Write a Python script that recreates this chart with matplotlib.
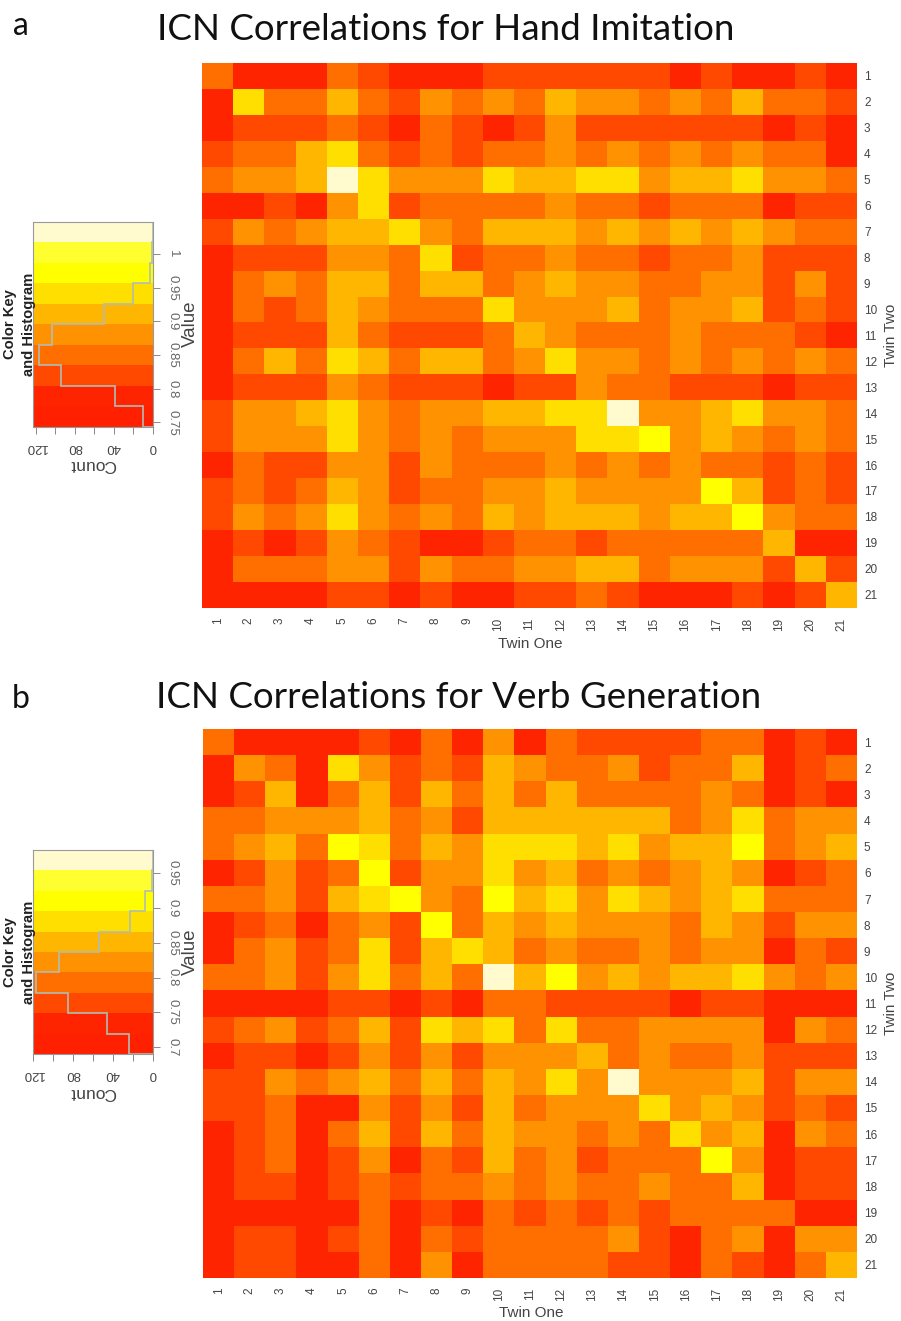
import numpy as np
import matplotlib as mpl
import matplotlib.pyplot as plt
from matplotlib.colors import ListedColormap, BoundaryNorm

mpl.use('Agg')

W, H = 901, 1321

# heat.colors(10), lowest band first
band_colors = ['#FF2000', '#FF2400', '#FF4900', '#FF6F00', '#FF9200',
               '#FFB600', '#FFDF00', '#FFFF00', '#FFFF30', '#FFFBCF']

labels = [str(i) for i in range(1, 22)]

# colour band of each cell, row 1 first
hand_bands = [
    [3,1,1,1,3,2,1,1,1,2,2,2,2,2,2,1,2,1,1,2,1],
    [1,6,3,3,5,3,2,4,3,4,3,5,4,4,3,4,3,5,3,3,2],
    [1,2,2,2,3,2,1,3,2,1,2,4,2,2,2,2,2,2,1,2,1],
    [2,3,3,5,6,3,2,3,2,3,3,4,3,4,3,4,3,4,3,3,1],
    [3,4,4,5,9,6,4,4,4,6,5,5,6,6,4,5,5,6,4,4,3],
    [1,1,2,1,4,6,2,3,3,3,3,4,3,3,2,3,3,3,1,2,2],
    [2,4,3,4,5,5,6,4,3,5,5,5,4,5,4,5,4,5,4,3,3],
    [1,2,2,2,4,4,3,6,2,3,3,4,3,3,2,3,3,4,2,2,2],
    [1,3,4,3,5,5,3,5,5,3,4,5,4,4,3,3,4,4,2,4,2],
    [1,3,2,3,5,4,3,3,3,6,4,4,4,5,3,4,4,5,2,3,2],
    [1,2,2,2,5,3,2,2,2,3,5,4,3,3,3,4,3,3,3,2,1],
    [1,3,5,3,6,5,3,5,5,3,4,6,4,4,3,4,3,4,3,4,3],
    [1,2,2,2,4,3,2,2,2,1,2,2,4,3,3,2,2,2,1,2,2],
    [2,4,4,5,6,4,3,4,4,5,5,6,6,9,4,4,5,6,4,4,3],
    [2,4,4,4,6,4,3,4,3,4,4,4,6,6,7,4,5,4,3,4,3],
    [1,3,2,2,4,4,2,4,3,3,3,4,3,4,3,4,3,3,2,3,2],
    [2,3,2,3,5,4,2,3,3,4,4,5,4,4,4,4,7,5,2,3,2],
    [2,4,3,4,6,4,3,4,3,5,4,5,5,5,4,5,5,7,4,3,3],
    [1,2,1,2,4,3,2,1,1,2,3,3,2,3,3,3,3,3,5,1,1],
    [1,3,3,3,4,4,2,4,3,3,4,4,5,5,3,4,4,4,2,5,2],
    [1,1,1,1,2,2,1,2,1,1,2,2,3,2,1,1,1,2,1,2,5],
]

verb_bands = [
    [3,1,1,1,1,2,1,3,1,4,1,3,2,2,2,2,3,3,1,2,1],
    [1,4,3,1,6,4,2,3,2,5,4,3,3,4,2,3,3,5,1,2,3],
    [1,2,5,1,3,5,2,5,3,5,3,5,3,3,3,3,4,3,1,2,1],
    [3,3,4,4,4,5,3,4,2,5,5,5,5,5,5,3,4,6,3,4,4],
    [3,4,5,3,7,6,3,5,4,6,6,6,5,6,4,5,5,7,3,4,5],
    [1,2,4,2,3,7,2,4,4,6,4,5,3,4,3,4,5,4,1,2,3],
    [3,3,4,2,5,6,7,4,3,7,5,6,4,6,5,4,5,6,3,3,3],
    [1,2,3,1,3,4,2,7,3,5,4,5,4,4,4,3,5,4,2,4,4],
    [1,3,4,2,3,6,2,5,6,5,3,4,3,3,4,3,4,4,1,3,2],
    [3,3,4,2,4,6,3,5,3,9,5,7,4,5,4,5,5,6,4,3,4],
    [1,1,1,1,2,2,1,2,1,3,3,2,2,2,2,1,2,2,1,1,1],
    [2,3,4,2,3,5,2,6,5,6,3,6,3,3,4,4,4,4,1,4,3],
    [1,2,2,1,2,4,2,4,2,4,4,4,5,3,4,3,3,4,2,2,2],
    [2,2,4,3,4,5,3,5,3,5,4,6,4,9,4,4,4,5,2,4,4],
    [2,2,3,1,1,4,2,4,2,5,3,4,4,4,6,4,5,4,2,3,2],
    [1,2,3,1,3,5,2,5,3,5,4,4,3,4,3,6,4,5,1,4,3],
    [1,2,3,1,2,4,1,3,2,5,3,4,2,3,3,3,7,4,1,2,2],
    [1,2,2,1,2,3,2,3,3,4,3,4,3,3,4,3,3,5,1,2,2],
    [1,1,1,1,1,3,1,2,1,3,2,3,2,3,2,3,3,3,3,1,1],
    [1,2,2,1,2,3,1,3,2,3,3,3,3,4,2,1,3,4,1,4,4],
    [1,2,2,1,1,3,1,4,1,3,3,3,3,2,2,1,3,2,1,3,5],
]

# colour key ranges and histogram counts per band
hand_range = [0.7436, 1.048]
hand_counts = [10, 39, 94, 117, 103, 50, 20, 3, 1, 0]
hand_ticks = [0.75, 0.8, 0.85, 0.9, 0.95, 1]

verb_range = [0.690, 0.9835]
verb_counts = [24, 46, 85, 117, 94, 54, 23, 8, 1, 0]
verb_ticks = [0.7, 0.75, 0.8, 0.85, 0.9, 0.95]

cmap = ListedColormap(band_colors)
norm = BoundaryNorm(np.arange(-0.5, 10.5), 10)


def eixo(fig, x0, y0, x1, y1):
    return fig.add_axes([x0 / W, 1 - y1 / H, (x1 - x0) / W, (y1 - y0) / H])


def texto(fig, x, y, s, **kw):
    fig.text(x / W, 1 - y / H, s, ha='center', va='center', **kw)


def desenhaMapa(fig, caixa, dados, ly, lx):
    ax = eixo(fig, *caixa)
    ax.imshow(np.array(dados), cmap=cmap, norm=norm, aspect='auto', interpolation='nearest')
    for s in ax.spines.values():
        s.set_visible(False)
    ax.set_xticks(range(21))
    ax.set_xticklabels(labels, rotation=90, fontsize=8.5, color='#444444')
    ax.yaxis.tick_right()
    ax.set_yticks(range(21))
    ax.set_yticklabels(labels, fontsize=8.5, color='#444444')
    ax.tick_params(axis='x', length=0, pad=7)
    ax.tick_params(axis='y', length=0, pad=5)
    texto(fig, (caixa[0] + caixa[2]) / 2 + 1, ly, 'Twin One', fontsize=11, color='#444444')
    texto(fig, lx, (caixa[1] + caixa[3]) / 2, 'Twin Two', fontsize=11, color='#444444', rotation=90)


def desenhaChave(fig, caixa, faixa, contagem, ticks, xmax):
    ax = eixo(fig, *caixa)
    bordas = np.linspace(faixa[0], faixa[1], 11)
    ax.pcolormesh([0, xmax], bordas, np.arange(10).reshape(-1, 1), cmap=cmap, norm=norm)
    ax.stairs(contagem, bordas, orientation='horizontal', color='#B0BDB4', linewidth=1.2)
    ax.set_xlim(xmax, 0)
    ax.set_ylim(faixa)
    ax.yaxis.tick_right()
    ax.set_yticks(ticks)
    ax.set_yticklabels([str(t) for t in ticks], rotation=-90, va='center', fontsize=9.5, color='#666666')
    ax.set_xticks([0, 20, 40, 60, 80, 100, 120])
    ax.set_xticklabels(['0', '', '40', '', '80', '', '120'], rotation=180, fontsize=9.5, color='#444444')
    ax.tick_params(length=5, width=0.7, color='#888888', pad=5)
    for s in ax.spines.values():
        s.set_color('#999999')
    meio = (caixa[1] + caixa[3]) / 2
    texto(fig, 190, meio, 'Value', fontsize=13.5, color='#444444', rotation=90)
    texto(fig, 93, caixa[3] + 38, 'Count', fontsize=12.5, color='#444444', rotation=180)
    texto(fig, 10, meio, 'Color Key', fontsize=10.6, weight='bold', color='#222222', rotation=90)
    texto(fig, 29, meio, 'and Histogram', fontsize=10.6, weight='bold', color='#222222', rotation=90)


plt.rcParams['font.family'] = ['Liberation Sans', 'DejaVu Sans']

fig = plt.figure(figsize=(W / 100, H / 100), dpi=100)

desenhaMapa(fig, (202, 63, 857, 607.7), hand_bands, 644, 891)
desenhaMapa(fig, (203, 729.3, 857, 1277.7), verb_bands, 1313, 891)
desenhaChave(fig, (32.7, 221.7, 152.7, 426.7), hand_range, hand_counts, hand_ticks, 123)
desenhaChave(fig, (32.7, 850, 152.7, 1054), verb_range, verb_counts, verb_ticks, 120)

texto(fig, 446, 29, 'ICN Correlations for Hand Imitation', fontsize=26.5, family='Lato', color='#111111')
texto(fig, 459, 698, 'ICN Correlations for Verb Generation', fontsize=26.5, family='Lato', color='#111111')
texto(fig, 21, 26, 'a', fontsize=23, family='Lato', color='#111111')
texto(fig, 21, 699, 'b', fontsize=23, family='Lato', color='#111111')

plt.savefig('out.png', dpi=100)
